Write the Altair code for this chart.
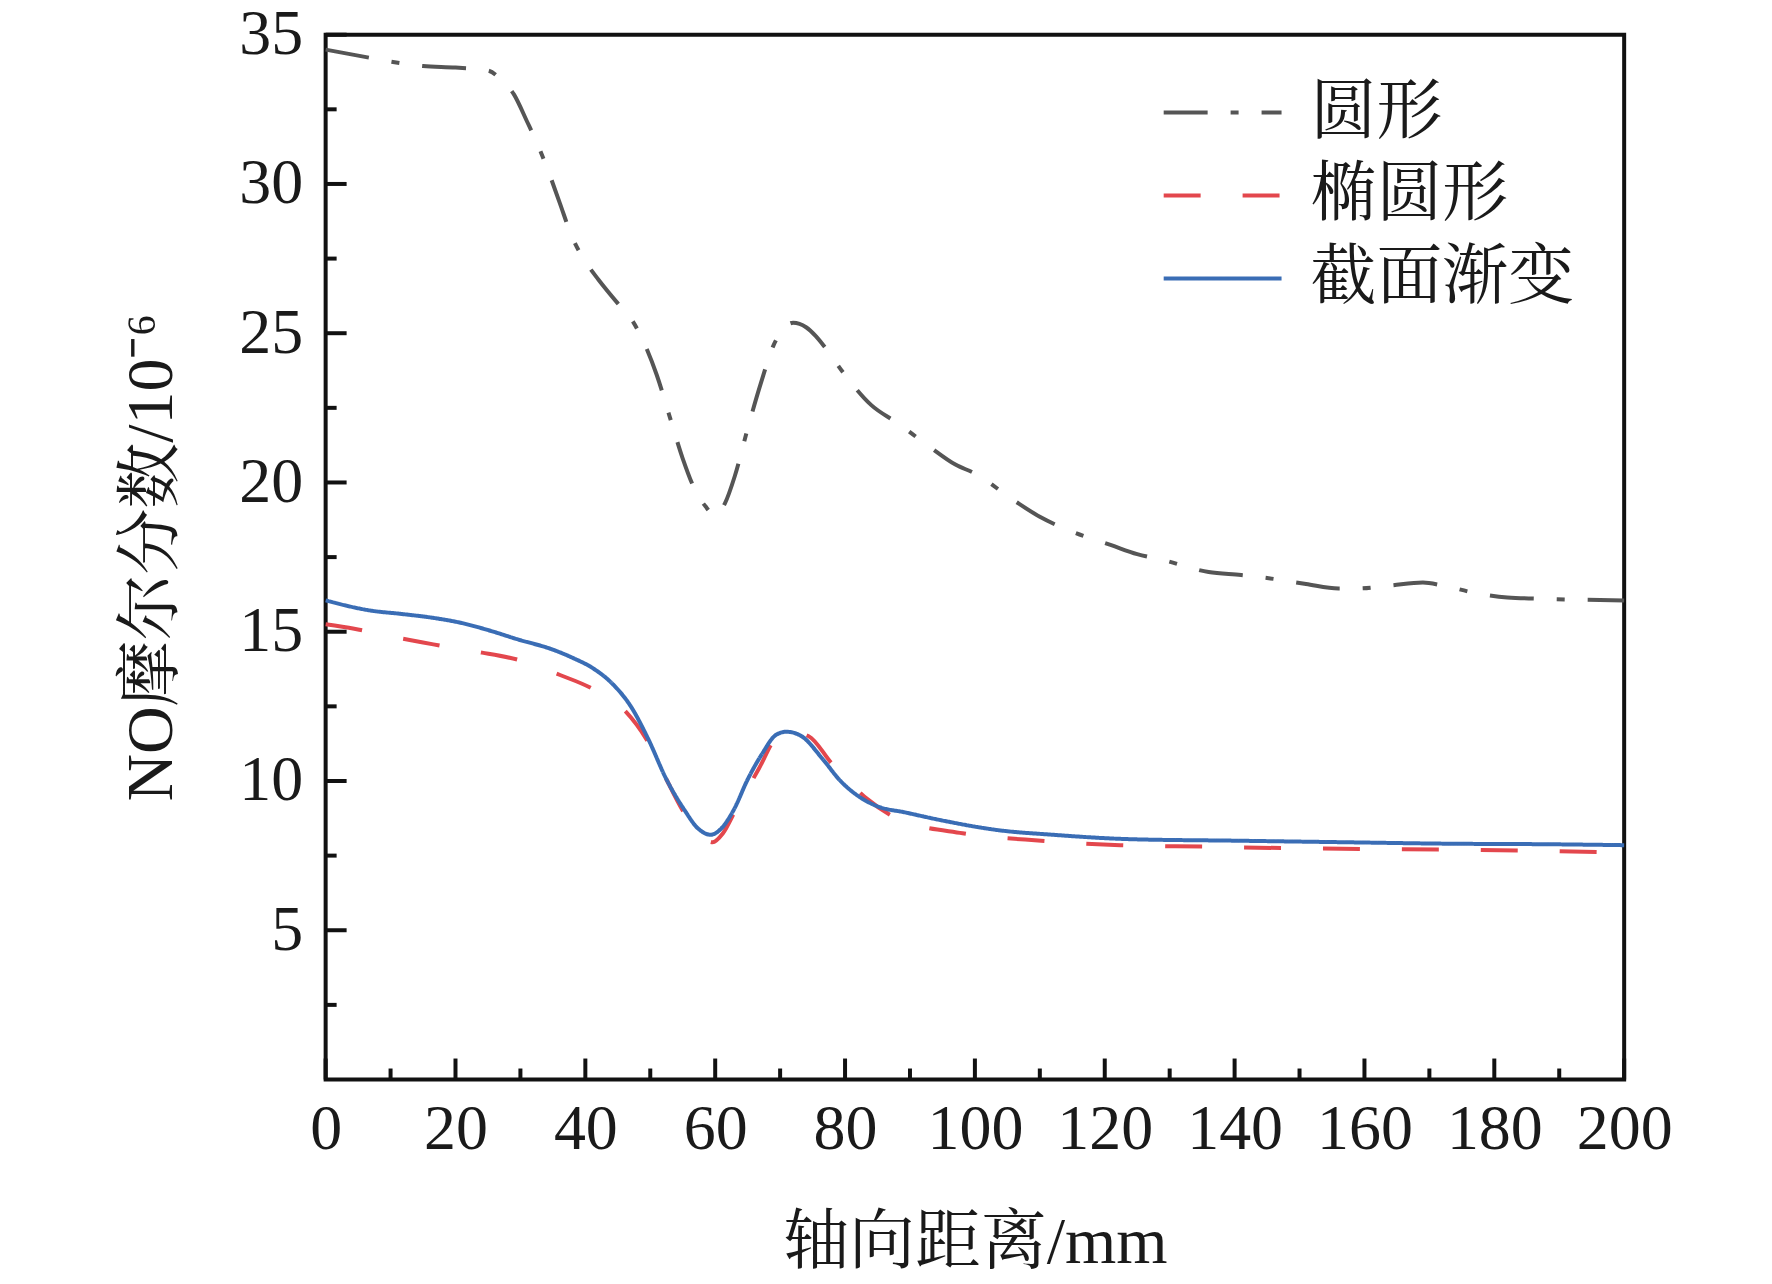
import altair as alt
import pandas as pd

# ---------------- data ----------------
series_names = ["圆形", "椭圆形", "截面渐变"]

circ_x = [0, 5, 10, 15, 20, 25, 27, 29, 31, 32.5, 34, 36, 38, 40, 42, 45, 47, 49, 51, 53,
          55, 57, 58.5, 60, 61.5, 63, 65, 67, 69, 70, 72, 74, 75.5, 77, 80, 84, 88, 93, 97,
          100, 106, 110, 115, 121, 125, 129, 136, 141, 145, 151, 156, 159, 164, 169, 172,
          177, 182, 188, 200]
circ_y = [34.5, 34.3, 34.1, 33.95, 33.9, 33.8, 33.5, 33.0, 32.1, 31.4, 30.6, 29.4, 28.2,
          27.4, 26.8, 26.0, 25.5, 24.7, 23.6, 22.2, 20.8, 19.7, 19.2, 18.9, 19.3, 20.2,
          21.8, 23.3, 24.6, 25.0, 25.35, 25.2, 24.9, 24.5, 23.6, 22.6, 22.0, 21.2, 20.6,
          20.3, 19.4, 18.85, 18.35, 17.9, 17.6, 17.4, 17.0, 16.9, 16.8, 16.6, 16.45, 16.45,
          16.55, 16.65, 16.55, 16.3, 16.15, 16.1, 16.05]

ell_x = [0, 4.4, 9.8, 14.8, 19.7, 24.1, 29.8, 36.1, 41, 45.9, 49.4, 52.5, 54.9, 57.2,
         59.6, 61.2, 63.2, 66.7, 69.4, 71.5, 74.4, 77.9, 79.6, 83.4, 88.5, 98.1, 110.2,
         122.4, 135.4, 148.3, 160.5, 172.6, 186.4, 200]
ell_y = [15.25, 15.1, 14.85, 14.65, 14.45, 14.3, 14.05, 13.55, 13.1, 12.4, 11.4, 10.05,
         9.05, 8.35, 7.95, 8.25, 9.05, 10.4, 11.45, 11.65, 11.5, 10.6, 10.2, 9.4, 8.7,
         8.25, 8.0, 7.85, 7.8, 7.75, 7.72, 7.7, 7.66, 7.6]

grad_x = [0, 7.2, 11.5, 17, 20.8, 25.1, 29.5, 35, 38.3, 41, 44.2, 47, 49.7, 52.5, 55.2,
          57.4, 59.3, 60.9, 62.9, 65, 67.2, 69.4, 71, 73.3, 76.5, 79.3, 82, 85, 89.2,
          95.6, 103.7, 111.9, 124, 140.2, 156.4, 172.6, 188.8, 200]
grad_y = [16.05, 15.7, 15.6, 15.45, 15.3, 15.05, 14.75, 14.4, 14.1, 13.8, 13.25, 12.5,
          11.4, 10.05, 9.05, 8.4, 8.2, 8.4, 9.05, 10.05, 10.9, 11.55, 11.65, 11.5, 10.75,
          10.0, 9.5, 9.15, 8.95, 8.65, 8.35, 8.2, 8.05, 8.0, 7.95, 7.9, 7.88, 7.85]

x_major = [0, 20, 40, 60, 80, 100, 120, 140, 160, 180, 200]
x_minor = [10, 30, 50, 70, 90, 110, 130, 150, 170, 190]
y_major = [5, 10, 15, 20, 25, 30, 35]
y_minor = [2.5, 7.5, 12.5, 17.5, 22.5, 27.5, 32.5]

# ---------------- build tables ----------------
rows = []
for name, xs, ys in zip(series_names, [circ_x, ell_x, grad_x], [circ_y, ell_y, grad_y]):
    for a, b in zip(xs, ys):
        rows.append({"x": a, "y": b, "s": name})
df = pd.DataFrame(rows)

W, H = 1300, 1046
SERIF = "Liberation Serif, Noto Serif CJK SC, Noto Sans CJK SC"
TXT = "#1a1a1a"

xscale = alt.Scale(domain=[0, 200], nice=False, zero=False)
yscale = alt.Scale(domain=[0, 35], nice=False, zero=False)

x_axis = alt.Axis(values=x_major, ticks=False, domain=False, grid=False,
                  labelFontSize=64, labelFont=SERIF, labelColor=TXT,
                  labelPadding=18, labelFlush=False, labelOverlap=False,
                  title="轴向距离/mm", titleFont=SERIF, titleFontSize=66,
                  titleFontWeight="normal", titleColor=TXT,
                  titleX=W / 2, titleY=163, titleBaseline="middle", titleAlign="center")
y_axis = alt.Axis(values=y_major, ticks=False, domain=False, grid=False,
                  labelFontSize=64, labelFont=SERIF, labelColor=TXT,
                  labelPadding=23, labelOverlap=False,
                  title="NO摩尔分数/10⁻⁶", titleFont=SERIF, titleFontSize=66,
                  titleFontWeight="normal", titleColor=TXT,
                  titleX=-174, titleY=H / 2, titleAngle=270,
                  titleBaseline="middle", titleAlign="center")

lines = alt.Chart(df).mark_line(strokeWidth=4, interpolate="monotone").encode(
    x=alt.X("x:Q", scale=xscale, axis=x_axis),
    y=alt.Y("y:Q", scale=yscale, axis=y_axis),
    color=alt.Color("s:N", sort=series_names,
                    scale=alt.Scale(domain=series_names,
                                    range=["#555555", "#E3474D", "#3A6DB5"]),
                    legend=alt.Legend(title=None, orient="none", legendX=837, legendY=45,
                                      symbolType="stroke", symbolSize=13924,
                                      symbolStrokeWidth=4, labelFontSize=66,
                                      labelFont=SERIF, labelColor=TXT, labelLimit=500,
                                      labelOffset=27, rowPadding=17, clipHeight=66,
                                      padding=0)),
    strokeDash=alt.StrokeDash("s:N", sort=series_names,
                              scale=alt.Scale(domain=series_names,
                                              range=[[44, 23, 8, 23], [37, 42], [1, 0]]),
                              legend=None),
)

xmaj = pd.DataFrame({"x": x_major})
xmin = pd.DataFrame({"x": x_minor})
ymaj = pd.DataFrame({"y": y_major})
ymin = pd.DataFrame({"y": y_minor})

tick_color = "#111111"
xt_major = alt.Chart(xmaj).mark_rule(strokeWidth=4, color=tick_color).encode(
    x=alt.X("x:Q", scale=xscale, axis=x_axis), y=alt.value(H), y2=alt.value(H - 21))
xt_minor = alt.Chart(xmin).mark_rule(strokeWidth=4, color=tick_color).encode(
    x=alt.X("x:Q", scale=xscale, axis=x_axis), y=alt.value(H), y2=alt.value(H - 11))
yt_major = alt.Chart(ymaj).mark_rule(strokeWidth=4, color=tick_color).encode(
    y=alt.Y("y:Q", scale=yscale, axis=y_axis), x=alt.value(0), x2=alt.value(21))
yt_minor = alt.Chart(ymin).mark_rule(strokeWidth=4, color=tick_color).encode(
    y=alt.Y("y:Q", scale=yscale, axis=y_axis), x=alt.value(0), x2=alt.value(11))

chart = alt.layer(lines, xt_major, xt_minor, yt_major, yt_minor).properties(
    width=W, height=H,
    autosize=alt.AutoSizeParams(type="none"),
    padding={"left": 318, "top": 26, "right": 140, "bottom": 202},
    background="white",
).configure_view(stroke="#111111", strokeWidth=4)

chart.save("out.html", embed_options={"renderer": "svg", "actions": False})
